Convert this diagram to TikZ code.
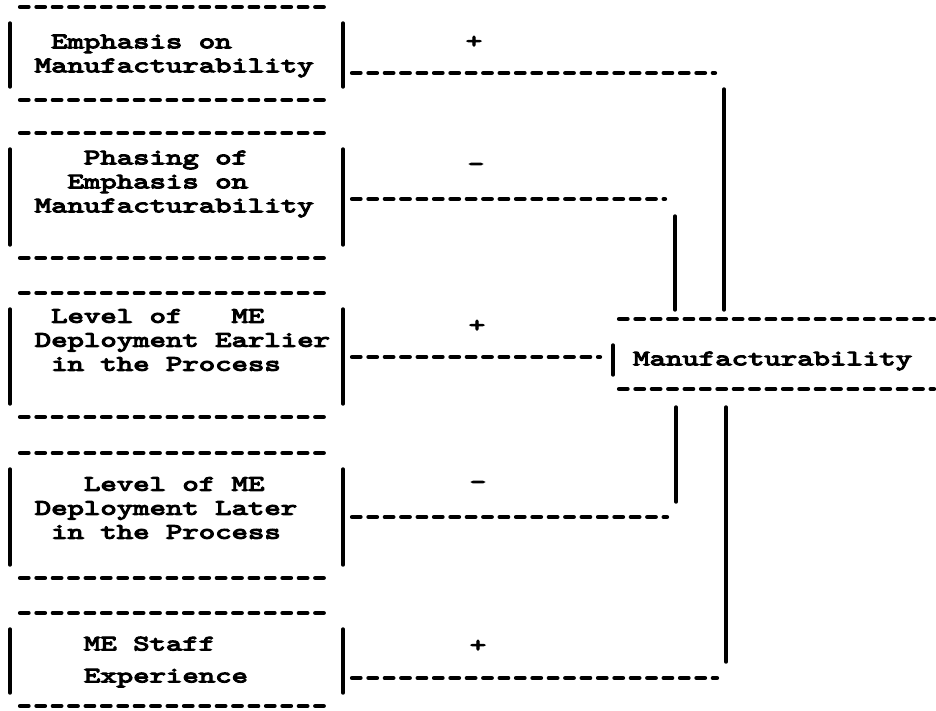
\documentclass[tikz,border=0pt]{standalone}
\usepackage{fontspec}
\newfontfamily\cour[FakeStretch=1.42,FakeBold=5]{lmmono10-regular.otf}
\usetikzlibrary{calc}
\newlength\cw
\setlength\cw{16.4pt}
\newcommand\ind[1]{\hspace*{#1\cw}}
\tikzset{
  dashline/.style={line width=4.2pt, line cap=round, dash pattern=on 8.6pt off 7.8pt},
  bar/.style={line width=3.4pt, line cap=round},
  frame/.style={inner sep=0pt, outer sep=0pt, minimum width=333pt},
  txt/.style={font=\cour\fontsize{22}{24}\selectfont, align=left, anchor=west, inner sep=0pt},
  sign/.style={font=\cour\fontsize{22}{24}\selectfont, inner sep=0pt},
}
\begin{document}
\begin{tikzpicture}[x=1pt,y=-1pt]
\fill[white] (0,0) rectangle (936,710);
\useasboundingbox (0,0) rectangle (936,710);
% frames of the left boxes
\node[frame, minimum height=93pt]  (b1) at (176.5,53.5) {};
\node[frame, minimum height=125pt] (b2) at (176.5,195.5) {};
\node[frame, minimum height=124pt] (b3) at (176.5,355) {};
\node[frame, minimum height=125pt] (b4) at (176.5,515.5) {};
\node[frame, minimum height=93pt]  (b5) at (176.5,659.5) {};
\foreach \n in {b1,b2,b3,b4,b5}{
  \draw[dashline] ($(\n.north west)+(10,0)$) -- ($(\n.north east)+(-18,0)$);
  \draw[dashline] ($(\n.south west)+(10,0)$) -- ($(\n.south east)+(-18,0)$);
  \draw[bar] ($(\n.north west)+(0,16)$) -- ($(\n.south west)+(0,-13)$);
  \draw[bar] ($(\n.north east)+(0,16)$) -- ($(\n.south east)+(0,-13)$);
}
% texts of the left boxes
\node[txt] (t1) at (34.6,56) {\ind{1}Emphasis on\\Manufacturability};
\node[txt] (t2) at (34.6,184) {\ind{3}Phasing of\\\ind{2}Emphasis on\\Manufacturability};
\node[txt] (t3) at (34.6,340) {\ind{1}Level of\hspace{2\cw} ME\\Deployment Earlier\\\ind{1}in the Process};
\node[txt] (t4) at (34.6,508) {\ind{3}Level of ME\\Deployment Later\\\ind{1}in the Process};
\node[txt] (t5) at (34.6,662) {\ind{3}ME Staff\\[8pt]\ind{3}Experience};
% target box
\node[inner sep=0pt, outer sep=0pt, minimum width=323pt, minimum height=70pt] (m) at (774.5,354) {};
\draw[dashline] ($(m.north west)+(6,0)$) -- ($(m.north east)+(-2,0)$);
\draw[dashline] ($(m.south west)+(6,0)$) -- ($(m.south east)+(-2,0)$);
\draw[bar] ($(m.north west)+(0,26)$) -- ($(m.south west)+(0,-14)$);
\node[txt] (mt) at (633,361) {Manufacturability};
% signs
\node[sign] (s1) at (474,42) {+};
\node[sign] (s2) at (476,167) {-};
\node[sign] (s3) at (477,326) {+};
\node[sign] (s4) at (478,485) {-};
\node[sign] (s5) at (478,646) {+};
% connector ends
\coordinate (k1) at (715,73);
\coordinate (k2) at (665,199);
\coordinate (k3) at ($(m.west)+(-13,3)$);
\coordinate (k4) at (667,517);
\coordinate (k5) at (717,678);
% connectors
\draw[dashline] ($(b1.east|-k1)+(9,0)$) -- (k1);
\draw[bar] ($(k1)+(9,16)$) -- ($(k1|-m.north)+(9,-9)$);
\draw[dashline] ($(b2.east|-k2)+(9,0)$) -- (k2);
\draw[bar] ($(k2)+(10,17)$) -- ($(k2|-m.north)+(10,-9)$);
\draw[dashline] ($(b3.east|-k3)+(9,0)$) -- (k3);
\draw[dashline] ($(b4.east|-k4)+(9,0)$) -- (k4);
\draw[bar] ($(k4)+(9,-15)$) -- ($(k4|-m.south)+(9,18)$);
\draw[dashline] ($(b5.east|-k5)+(9,0)$) -- (k5);
\draw[bar] ($(k5)+(9,-16)$) -- ($(k5|-m.south)+(9,18)$);
\end{tikzpicture}
\end{document}
